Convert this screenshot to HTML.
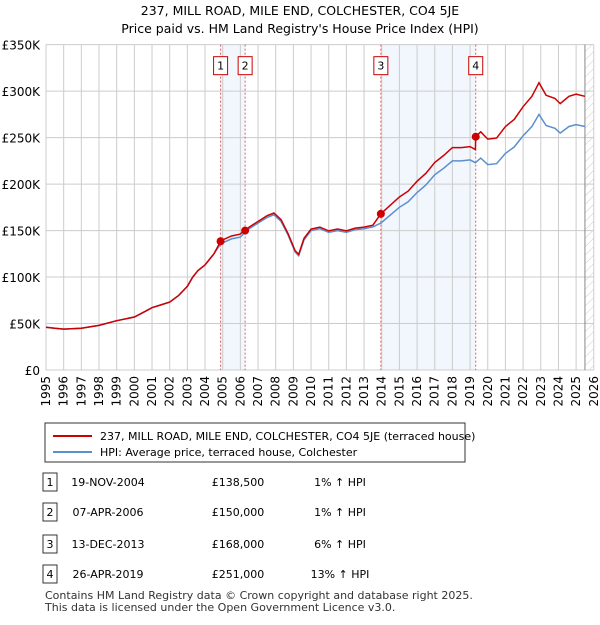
<!DOCTYPE html>
<html><head><meta charset="utf-8"><style>
body{margin:0;background:#fff;font-family:"Liberation Sans","DejaVu Sans",sans-serif;}
svg text{font-family:"DejaVu Sans","Liberation Sans",sans-serif;}
</style></head><body>
<svg id="c" width="600" height="620" xmlns="http://www.w3.org/2000/svg">
<defs><pattern id="hatch" width="6" height="6" patternUnits="userSpaceOnUse" patternTransform="rotate(45)"><line x1="0" y1="0" x2="0" y2="6" stroke="#ccc" stroke-width="1"/></pattern></defs>
<text x="300" y="15" text-anchor="middle" font-size="12.5">237, MILL ROAD, MILE END, COLCHESTER, CO4 5JE</text>
<text x="300" y="33" text-anchor="middle" font-size="12.5">Price paid vs. HM Land Registry's House Price Index (HPI)</text>
<g id="plot"></g>
<g>
<rect x="45" y="423" width="420" height="39" fill="#fff" stroke="#333" stroke-width="1"/>
<line x1="53" y1="436" x2="92" y2="436" stroke="#cc0000" stroke-width="2"/>
<text x="100" y="440" font-size="11">237, MILL ROAD, MILE END, COLCHESTER, CO4 5JE (terraced house)</text>
<line x1="53" y1="452" x2="92" y2="452" stroke="#5b8fd0" stroke-width="2"/>
<text x="100" y="456" font-size="11">HPI: Average price, terraced house, Colchester</text>
</g>
<g id="tbl" font-size="11"></g>
<text x="45" y="599" font-size="11" fill="#333">Contains HM Land Registry data © Crown copyright and database right 2025.</text>
<text x="45" y="611" font-size="11" fill="#333">This data is licensed under the Open Government Licence v3.0.</text>
</svg>
<script>
const hpiYears=[1995,1995.5,1996,1997,1998,1999,2000,2000.5,2001,2001.5,2002,2002.5,2003,2003.3,2003.6,2004,2004.5,2004.9,2005.5,2006,2006.25,2006.5,2007,2007.5,2007.9,2008.3,2008.7,2009.1,2009.3,2009.6,2010,2010.5,2011,2011.5,2012,2012.5,2013,2013.5,2013.95,2014.5,2015,2015.5,2016,2016.5,2017,2017.5,2018,2018.5,2019,2019.3,2019.6,2020,2020.5,2021,2021.5,2022,2022.5,2022.9,2023.3,2023.8,2024.1,2024.6,2025,2025.5];
const hpiValues=[46,45,44,45,48,53,57,62,67,70,73,80,90,100,107,113,125,136,141,143,148,152,158,164,167,160,145,127,123,140,150,152,148,150,148,151,152,154,158,167,175,181,191,199,210,217,225,225,226,223,228,221,222,233,240,252,262,275,263,260,255,262,264,262];
const saleYears=[2004.88,2006.27,2013.95,2019.32];
const saleLabels=["1","2","3","4"];
const saleDates=["19-NOV-2004","07-APR-2006","13-DEC-2013","26-APR-2019"];
const salePrices=[138.5,150,168,251];
const saleHpi=["1% ↑ HPI","1% ↑ HPI","6% ↑ HPI","13% ↑ HPI"];
const yTicks=[0,50,100,150,200,250,300,350];
const xTicks=[1995,1996,1997,1998,1999,2000,2001,2002,2003,2004,2005,2006,2007,2008,2009,2010,2011,2012,2013,2014,2015,2016,2017,2018,2019,2020,2021,2022,2023,2024,2025,2026];

const NS="http://www.w3.org/2000/svg";
const X0=46,Y0=370,PX=17.67,PY=0.9295;
const sx=y=>X0+(y-1995)*PX, sy=v=>Y0-v*PY;
const plot=document.getElementById('plot');
function mk(t,a,p){const e=document.createElementNS(NS,t);for(const k in a)e.setAttribute(k,a[k]);(p||plot).appendChild(e);return e;}
// shading
for(let i=0;i<4;i+=2){const r=mk('rect',{x:sx(saleYears[i]),y:sy(350),width:sx(saleYears[i+1])-sx(saleYears[i]),height:350*PY,fill:'#eef3fc',opacity:0.75});

}
// grid
yTicks.forEach(v=>{const l=mk('line',{x1:X0,x2:sx(2026),y1:sy(v),y2:sy(v),stroke:'#ccc'});


const t=mk('text',{x:40,y:sy(v)+5,'text-anchor':'end','font-size':12});t.textContent=v===0?'£0':'£'+v+'K';

});
xTicks.forEach(y=>{const l=mk('line',{x1:sx(y),x2:sx(y),y1:sy(350),y2:Y0,stroke:'#ccc'});


const t=mk('text',{x:0,y:0,'text-anchor':'end','font-size':12,transform:`translate(${sx(y)+4},${Y0+6}) rotate(-90)`});t.textContent=y;

});
// hatch future
const h=mk('rect',{x:sx(2025.5),y:sy(350),width:sx(2026)-sx(2025.5),height:350*PY,fill:'url(#hatch)'});


mk('line',{x1:sx(2025.5),x2:sx(2025.5),y1:sy(350),y2:Y0,stroke:'#888'});
// sale vlines
saleYears.forEach((y,i)=>{const l=mk('line',{x1:sx(y),x2:sx(y),y1:sy(350),y2:Y0,stroke:'#e06060','stroke-dasharray':'2,2'});


const b=mk('rect',{x:sx(y)-7,y:sy(350)+12,width:14,height:18,fill:'#fff',stroke:'#cc0000'});


const t=mk('text',{x:sx(y),y:sy(350)+25,'text-anchor':'middle','font-size':11});t.textContent=saleLabels[i];

});
// series
function ratio(y){let r=1;for(let i=0;i<saleYears.length;i++){if(y>=saleYears[i]){const idx=hpiIdx(saleYears[i]);r=salePrices[i]/idx;}}return r;}
function hpiIdx(y){for(let i=1;i<hpiYears.length;i++){if(y<=hpiYears[i]){const f=(y-hpiYears[i-1])/(hpiYears[i]-hpiYears[i-1]);return hpiValues[i-1]+f*(hpiValues[i]-hpiValues[i-1]);}}return hpiValues[hpiValues.length-1];}
let hp='',rp='';
hpiYears.forEach((y,i)=>{hp+=(i?'L':'M')+sx(y).toFixed(1)+','+sy(hpiValues[i]).toFixed(1);});
const ry=hpiYears.concat(saleYears).sort((a,b)=>a-b);
ry.forEach((y,i)=>{const v=Math.max(hpiIdx(y)*Math.max(ratio(y),1),0);rp+=(i?'L':'M')+sx(y).toFixed(1)+','+sy(v).toFixed(1);});
const hl=mk('path',{d:hp,fill:'none',stroke:'#5b8fd0','stroke-width':1.5});


const rl=mk('path',{d:rp,fill:'none',stroke:'#cc0000','stroke-width':1.5});


saleYears.forEach((y,i)=>{const c=mk('circle',{cx:sx(y),cy:sy(salePrices[i]),r:4,fill:'#cc0000'});

});
// table
const tbl=document.getElementById('tbl');
const rowY=[483,513,545,575];
saleYears.forEach((y,i)=>{const g=mk('g',{},tbl);


mk('rect',{x:43,y:rowY[i]-10,width:14,height:18,fill:'#fff',stroke:'#333'},g);
const a=mk('text',{x:50,y:rowY[i]+3,'text-anchor':'middle'},g);a.textContent=saleLabels[i];
const d=mk('text',{x:108,y:rowY[i]+3,'text-anchor':'middle'},g);d.textContent=saleDates[i];
const p=mk('text',{x:238,y:rowY[i]+3,'text-anchor':'middle'},g);p.textContent='£'+Math.round(salePrices[i]*1000).toLocaleString('en-GB');
const q=mk('text',{x:340,y:rowY[i]+3,'text-anchor':'middle'},g);q.textContent=saleHpi[i];});
</script>
</body></html>
